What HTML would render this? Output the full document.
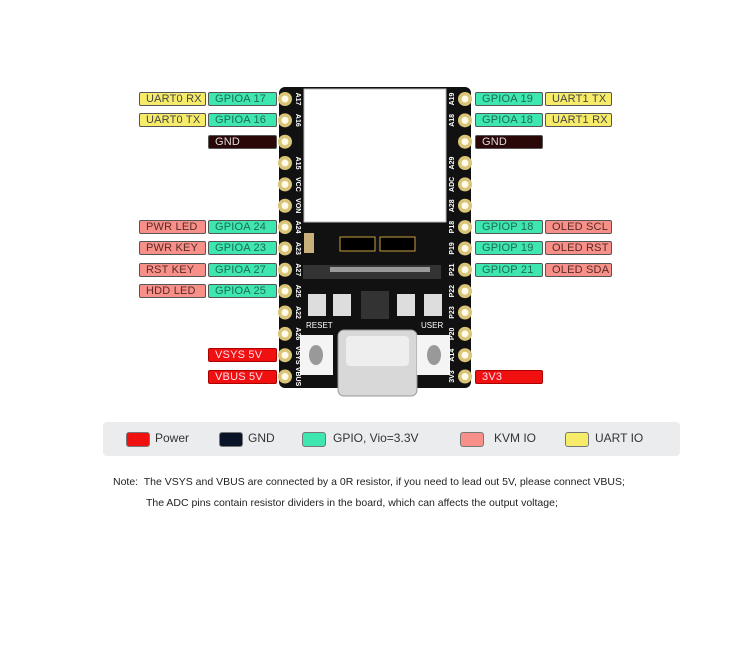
<!DOCTYPE html>
<html><head><style>
body{margin:0;background:#fff;width:750px;height:659px;position:relative;overflow:hidden;font-family:"Liberation Sans",sans-serif}
.l{position:absolute;height:12px;border:1px solid #555;border-radius:2px;font-size:11px;line-height:12px;padding-left:6px;box-sizing:content-box;letter-spacing:0.2px}
.y{background:#f7ec6a;color:#444}.g{background:#3ee6b0;color:#1f6a55}.k{background:#f69088;color:#5a2a28}.d{background:#2a0808;color:#ddd}.r{background:#f01010;color:#fde;border-color:#a00}
.sw{position:absolute;top:432px;width:22px;height:13px;border:1px solid #777;border-radius:3px}
.lt{position:absolute;top:431px;font-size:12px;color:#333}
.n{position:absolute;font-size:10.5px;color:#222}
</style></head><body>
<svg style="position:absolute;left:0;top:0" width="750" height="659">
<rect x="279" y="87" width="192" height="301" rx="6" fill="#111"/>
<rect x="304" y="89" width="142" height="133" fill="#fff" stroke="#bbb"/>
<rect x="338" y="330" width="79" height="66" rx="6" fill="#d8d8d8" stroke="#999"/>
<rect x="346" y="336" width="63" height="30" rx="4" fill="#eee"/>
<rect x="300" y="335" width="33" height="40" fill="#f4f4f4"/><ellipse cx="316" cy="355" rx="7" ry="10" fill="#999"/>
<rect x="417" y="335" width="33" height="40" fill="#f4f4f4"/><ellipse cx="434" cy="355" rx="7" ry="10" fill="#999"/>
<rect x="303" y="265" width="138" height="14" fill="#333"/><rect x="330" y="267" width="100" height="5" fill="#999"/>
<rect x="304" y="233" width="10" height="20" fill="#c9b07a"/>
<rect x="340" y="237" width="35" height="14" fill="#000" stroke="#c9a040"/><rect x="380" y="237" width="35" height="14" fill="#000" stroke="#c9a040"/>
<rect x="361" y="291" width="28" height="28" fill="#333"/>
<rect x="308" y="294" width="18" height="22" fill="#ddd"/><rect x="333" y="294" width="18" height="22" fill="#ddd"/>
<rect x="397" y="294" width="18" height="22" fill="#ddd"/><rect x="424" y="294" width="18" height="22" fill="#ddd"/>
<text x="306" y="328" font-size="8" fill="#fff" font-family="Liberation Sans">RESET</text>
<text x="421" y="328" font-size="8" fill="#fff" font-family="Liberation Sans">USER</text>
<g id="pins"></g>
</svg>
<script>
var g=document.getElementById('pins'),s='';
var L=['A17','A16','','A15','VCC','VON','A24','A23','A27','A25','A22','A26','VSYS','VBUS'];
var R=['A19','A18','','A29','ADC','A28','P18','P19','P21','P22','P23','P20','A14','3V3'];
for(var i=0;i<14;i++){var y=99+i*21.35;
[285,465].forEach(function(x){s+='<circle cx="'+x+'" cy="'+y+'" r="7" fill="#d9c477"/><circle cx="'+x+'" cy="'+y+'" r="3.5" fill="#fffbe8"/>';});
s+='<text transform="translate(296,'+y+') rotate(90)" text-anchor="middle" font-size="7" fill="#fff" font-family="Liberation Sans" font-weight="bold">'+L[i]+'</text>';
s+='<text transform="translate(454,'+y+') rotate(-90)" text-anchor="middle" font-size="7" fill="#fff" font-family="Liberation Sans" font-weight="bold">'+R[i]+'</text>';}
g.innerHTML=s;
</script>
<div class="l y" style="left:139px;top:92px;width:59px">UART0 RX</div>
<div class="l g" style="left:208px;top:92px;width:61px">GPIOA 17</div>
<div class="l y" style="left:139px;top:113px;width:59px">UART0 TX</div>
<div class="l g" style="left:208px;top:113px;width:61px">GPIOA 16</div>
<div class="l d" style="left:208px;top:135px;width:61px">GND</div>
<div class="l k" style="left:139px;top:220px;width:59px">PWR LED</div>
<div class="l g" style="left:208px;top:220px;width:61px">GPIOA 24</div>
<div class="l k" style="left:139px;top:241px;width:59px">PWR KEY</div>
<div class="l g" style="left:208px;top:241px;width:61px">GPIOA 23</div>
<div class="l k" style="left:139px;top:263px;width:59px">RST KEY</div>
<div class="l g" style="left:208px;top:263px;width:61px">GPIOA 27</div>
<div class="l k" style="left:139px;top:284px;width:59px">HDD LED</div>
<div class="l g" style="left:208px;top:284px;width:61px">GPIOA 25</div>
<div class="l r" style="left:208px;top:348px;width:61px">VSYS 5V</div>
<div class="l r" style="left:208px;top:370px;width:61px">VBUS 5V</div>
<div class="l g" style="left:475px;top:92px;width:60px">GPIOA 19</div>
<div class="l y" style="left:545px;top:92px;width:59px">UART1 TX</div>
<div class="l g" style="left:475px;top:113px;width:60px">GPIOA 18</div>
<div class="l y" style="left:545px;top:113px;width:59px">UART1 RX</div>
<div class="l d" style="left:475px;top:135px;width:60px">GND</div>
<div class="l g" style="left:475px;top:220px;width:60px">GPIOP 18</div>
<div class="l k" style="left:545px;top:220px;width:59px">OLED SCL</div>
<div class="l g" style="left:475px;top:241px;width:60px">GPIOP 19</div>
<div class="l k" style="left:545px;top:241px;width:59px">OLED RST</div>
<div class="l g" style="left:475px;top:263px;width:60px">GPIOP 21</div>
<div class="l k" style="left:545px;top:263px;width:59px">OLED SDA</div>
<div class="l r" style="left:475px;top:370px;width:60px">3V3</div>
<div style="position:absolute;left:103px;top:422px;width:577px;height:34px;background:#eaecee;border-radius:4px"></div>
<div class="sw" style="left:126px;background:#f01010"></div><div class="lt" style="left:155px">Power</div>
<div class="sw" style="left:219px;background:#0a1428"></div><div class="lt" style="left:248px">GND</div>
<div class="sw" style="left:302px;background:#3ee6b0"></div><div class="lt" style="left:333px">GPIO, Vio=3.3V</div>
<div class="sw" style="left:460px;background:#f69088"></div><div class="lt" style="left:494px">KVM IO</div>
<div class="sw" style="left:565px;background:#f7ec6a"></div><div class="lt" style="left:595px">UART IO</div>
<div class="n" style="left:113px;top:476px">Note:&nbsp; The VSYS and VBUS are connected by a 0R resistor, if you need to lead out 5V, please connect VBUS;</div>
<div class="n" style="left:146px;top:497px">The ADC pins contain resistor dividers in the board, which can affects the output voltage;</div>
</body></html>
